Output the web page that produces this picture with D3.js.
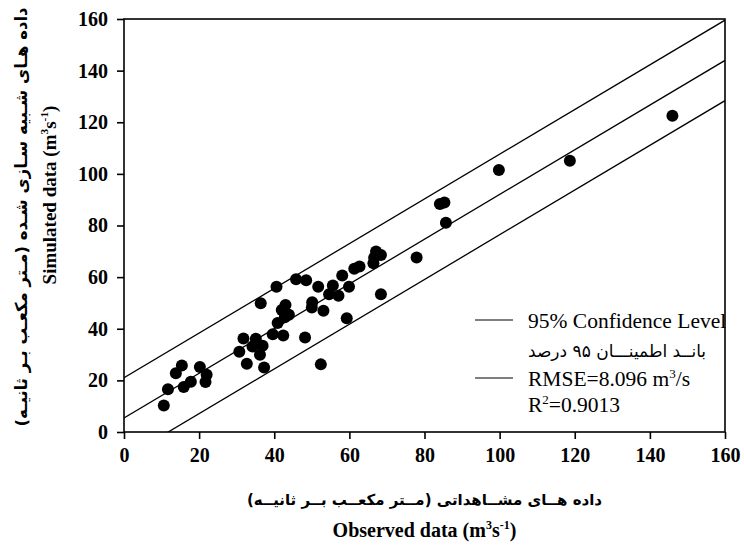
<!DOCTYPE html>
<html>
<head>
  <meta charset="utf-8">
  <script src="https://cdn.jsdelivr.net/npm/d3@7/dist/d3.min.js"></script>
  <style>
    body { margin: 0; background: #fff; }
    svg { display: block; }
  </style>
</head>
<body>
  <svg id="chart" width="744" height="549"></svg>
  <script>
    // observed vs simulated discharge (m3/s)
    const observed = [10.6, 11.7, 13.8, 15.4, 15.9, 17.8, 20.2, 22.0, 21.7, 30.7,
      31.8, 32.7, 34.2, 35.1, 36.4, 36.2, 36.9, 37.3, 39.6, 40.6,
      40.9, 42.4, 42.0, 43.0, 43.9, 42.8, 45.8, 48.2, 48.5, 50.1,
      50.0, 51.7, 53.1, 52.4, 54.6, 55.6, 57.1, 58.1, 59.9, 59.3,
      61.3, 62.7, 66.4, 67.1, 68.4, 66.6, 68.4, 77.9, 84.1, 85.3,
      85.7, 99.8, 118.7, 146.0];
    const simulated = [10.3, 16.6, 22.8, 25.8, 17.4, 19.5, 25.2, 22.2, 19.4, 31.1,
      36.2, 26.4, 33.1, 36.1, 49.9, 29.9, 33.4, 25.0, 37.9, 56.3,
      42.2, 37.4, 47.3, 49.2, 45.4, 44.5, 59.2, 36.6, 58.8, 50.3,
      48.2, 56.3, 47.0, 26.2, 53.4, 56.8, 52.8, 60.6, 56.3, 44.1,
      63.2, 64.1, 65.4, 69.9, 68.6, 67.5, 53.4, 67.6, 88.3, 88.9,
      81.1, 101.5, 105.1, 122.5];

    // fitted line and 95% band (intercept, slope, half width)
    const fit = { a: 5.4, b: 0.866, band: 15.6 };
    const tickValues = [0, 20, 40, 60, 80, 100, 120, 140, 160];

    const legendRows = ["95% Confidence Level", "بانــد اطمینـــان ۹۵ درصد"];
    const statRows = ["RMSE=8.096 m", "R"];

    const svg = d3.select("#chart");
    const pl = 124, pr = 725, pt = 19, pb = 432;

    const x = d3.scaleLinear().domain([0, 160]).range([pl, pr]);
    const y = d3.scaleLinear().domain([0, 160]).range([pb, pt]);

    const serif = "'Liberation Serif', 'Times New Roman', serif";
    const farsi = "'DejaVu Sans', sans-serif";

    // clip for lines
    svg.append("clipPath").attr("id", "clip")
      .append("rect").attr("x", pl).attr("y", pt)
      .attr("width", pr - pl).attr("height", pb - pt);

    // regression + confidence lines
    const lineGen = d3.line().x(d => x(d[0])).y(d => y(d[1]));
    [-fit.band, 0, fit.band].forEach(off => {
      const pts = [0, 160].map(v => [v, fit.a + off + fit.b * v]);
      svg.append("path")
        .attr("clip-path", "url(#clip)")
        .attr("d", lineGen(pts))
        .attr("fill", "none")
        .attr("stroke", "#000")
        .attr("stroke-width", 1.3);
    });

    // points
    svg.append("g")
      .selectAll("circle")
      .data(observed.map((o, i) => [o, simulated[i]]))
      .join("circle")
        .attr("cx", d => x(d[0]))
        .attr("cy", d => y(d[1]))
        .attr("r", 6)
        .attr("fill", "#000");

    // frame
    svg.append("rect")
      .attr("x", pl).attr("y", pt)
      .attr("width", pr - pl).attr("height", pb - pt)
      .attr("fill", "none").attr("stroke", "#000").attr("stroke-width", 1.6);

    const xAxis = svg.append("g")
      .attr("transform", `translate(0,${pb})`)
      .call(d3.axisBottom(x).tickValues(tickValues).tickSize(7).tickPadding(9));
    const yAxis = svg.append("g")
      .attr("transform", `translate(${pl},0)`)
      .call(d3.axisLeft(y).tickValues(tickValues).tickSize(7).tickPadding(9));

    [xAxis, yAxis].forEach(g => {
      g.select(".domain").remove();
      g.selectAll(".tick line").attr("stroke", "#000").attr("stroke-width", 1.6);
      g.selectAll(".tick text")
        .attr("fill", "#000")
        .style("font-family", serif)
        .style("font-weight", "bold")
        .style("font-size", "20px");
    });

    // unit helper: m3s-1
    function unit(t, size) {
      t.append("tspan").text("(m");
      t.append("tspan").attr("dy", -8).style("font-size", size * 0.6 + "px").text("3");
      t.append("tspan").attr("dy", 8).text("s");
      t.append("tspan").attr("dy", -8).style("font-size", size * 0.6 + "px").text("-1");
      t.append("tspan").attr("dy", 8).text(")");
    }

    // x titles
    svg.append("text")
      .attr("x", (pl + pr) / 2).attr("y", 505)
      .attr("text-anchor", "middle")
      .style("font-family", farsi).style("font-weight", "bold").style("font-size", "15px")
      .text("(داده هــای مشــاهداتی (مــتر مکعــب  بــر ثانیــه");
    const xt = svg.append("text")
      .attr("x", (pl + pr) / 2).attr("y", 537)
      .attr("text-anchor", "middle")
      .style("font-family", serif).style("font-weight", "bold").style("font-size", "20px");
    xt.append("tspan").text("Observed data ");
    unit(xt, 20);

    // y titles
    svg.append("text")
      .attr("transform", "translate(27,217) rotate(-90)")
      .attr("text-anchor", "middle")
      .style("font-family", farsi).style("font-weight", "bold").style("font-size", "16.5px")
      .text("(داده هـای شـبیه سـازی شـده (مـتر مکعـب  بـر ثانیـه");
    const yt = svg.append("text")
      .attr("transform", "translate(56,195) rotate(-90)")
      .attr("text-anchor", "middle")
      .style("font-family", serif).style("font-weight", "bold").style("font-size", "19px");
    yt.append("tspan").text("Simulated data ");
    unit(yt, 19);

    // legend
    const lg = svg.append("g");
    [320, 378].forEach(ly => {
      lg.append("line")
        .attr("x1", 475).attr("x2", 513).attr("y1", ly).attr("y2", ly)
        .attr("stroke", "#000").attr("stroke-width", 1.2);
    });
    lg.append("text")
      .attr("x", 528).attr("y", 328)
      .style("font-family", serif).style("font-size", "21.5px")
      .text(legendRows[0]);
    lg.append("text")
      .attr("x", 528).attr("y", 357)
      .attr("direction", "rtl").attr("text-anchor", "end")
      .style("font-family", farsi).style("font-size", "17px")
      .text(legendRows[1]);
    const rm = lg.append("text")
      .attr("x", 528).attr("y", 386)
      .style("font-family", serif).style("font-size", "21.5px");
    rm.append("tspan").text(statRows[0]);
    rm.append("tspan").attr("dy", -8).style("font-size", "13px").text("3");
    rm.append("tspan").attr("dy", 8).text("/s");
    const r2 = lg.append("text")
      .attr("x", 528).attr("y", 412)
      .style("font-family", serif).style("font-size", "21.5px");
    r2.append("tspan").text(statRows[1]);
    r2.append("tspan").attr("dy", -8).style("font-size", "13px").text("2");
    r2.append("tspan").attr("dy", 8).text("=0.9013");
  </script>
</body>
</html>
